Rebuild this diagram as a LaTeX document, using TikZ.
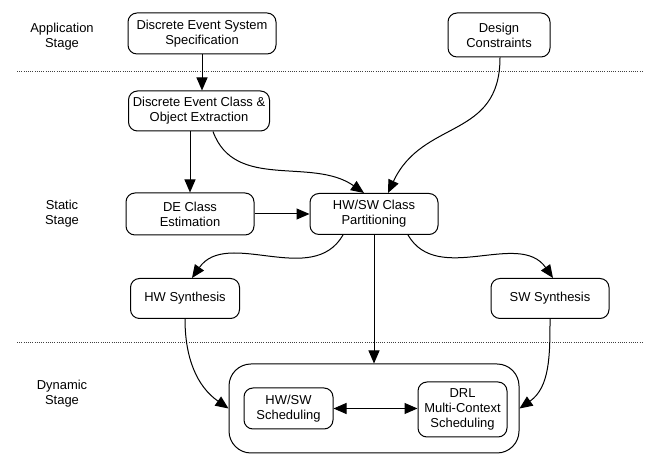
\documentclass[tikz,border=0pt]{standalone}
\usepackage{fontspec}
\setmainfont{Liberation Sans}
\usetikzlibrary{arrows.meta,positioning}
\tikzset{
  stage/.style={align=center, font=\fontsize{13}{15}\selectfont},
  proc/.style={draw, rounded corners=9bp, line width=1bp, align=center, minimum height=41bp, inner sep=2bp, font=\fontsize{13}{15}\selectfont},
  group/.style={draw, rounded corners=22bp, line width=1bp, minimum width=290bp, minimum height=89bp},
  arrow/.style={-{Triangle[length=13bp,width=11bp]}, line width=1bp},
  twoway/.style={{Triangle[length=13bp,width=11bp]}-{Triangle[length=13bp,width=11bp]}, line width=1bp},
  sep/.style={dash pattern=on 1bp off 1.2bp, line width=0.6bp, black!75}
}

\begin{document}
\begin{tikzpicture}[x=1bp, y=1bp]
  \useasboundingbox (0,0) rectangle (654,456);

  % stage labels and separators
  \node[stage] (app) at (62,419) {Application\\Stage};
  \node[stage] (static) at (62,242) {Static\\Stage};
  \node[stage] (dynamic) at (62,62) {Dynamic\\Stage};
  \draw[sep] (17,385) -- (643,385);
  \draw[sep] (17,114) -- (643,114);

  \node[proc, minimum width=148bp] (spec) at (202,422.5) {Discrete Event System\\Specification};
  \node[proc, minimum width=102bp, minimum height=44bp] (design) at (499,421) {Design\\Constraints};
  \node[proc, minimum width=141bp, minimum height=40bp, below=36bp of spec, xshift=-3bp] (extract) {Discrete Event Class \&\\Object Extraction};
  \node[proc, minimum width=128bp, minimum height=42bp] (estim) at (190,242) {DE Class\\Estimation};
  \node[proc, minimum width=128bp, right=55bp of estim] (part) {HW/SW Class\\Partitioning};
  \node[proc, minimum width=109bp, minimum height=40bp] (hwsyn) at (185,157.5) {HW Synthesis};
  \node[proc, minimum width=118bp, minimum height=40bp] (swsyn) at (550,157.5) {SW Synthesis};
  \node[group] (dyn) at (374,47.5) {};
  \node[proc, minimum width=89bp] (hwsched) at (288.5,47.5) {HW/SW\\Scheduling};
  \node[proc, minimum width=89bp, minimum height=55bp] (drl) at (462.5,46.5) {DRL\\Multi-Context\\Scheduling};

  \draw[arrow] (spec.south) -- (spec.south |- extract.north);
  \draw[arrow] (extract.south -| estim.north) -- (estim.north);
  \draw[arrow] ([xshift=14bp]extract.south) to[out=-70,in=145] ([xshift=-10bp]part.north);
  \draw[arrow] ([xshift=1bp]design.south) to[out=-90,in=65,looseness=1.2] ([xshift=14bp]part.north);
  \draw[arrow] (estim) -- (part);
  \draw[arrow] (part.south) -- (part.south |- dyn.north);
  \draw[arrow] ([xshift=-31bp]part.south) to[out=-120,in=55] ([xshift=7bp]hwsyn.north);
  \draw[arrow] ([xshift=34bp]part.south) to[out=-60,in=125] ([xshift=3bp]swsyn.north);
  \draw[arrow] (hwsyn.south) to[out=-90,in=145] (dyn.west);
  \draw[arrow] (swsyn.south) to[out=-90,in=35] (dyn.east);
  \draw[twoway] (hwsched.east) -- (hwsched.east -| drl.west);
\end{tikzpicture}
\end{document}
